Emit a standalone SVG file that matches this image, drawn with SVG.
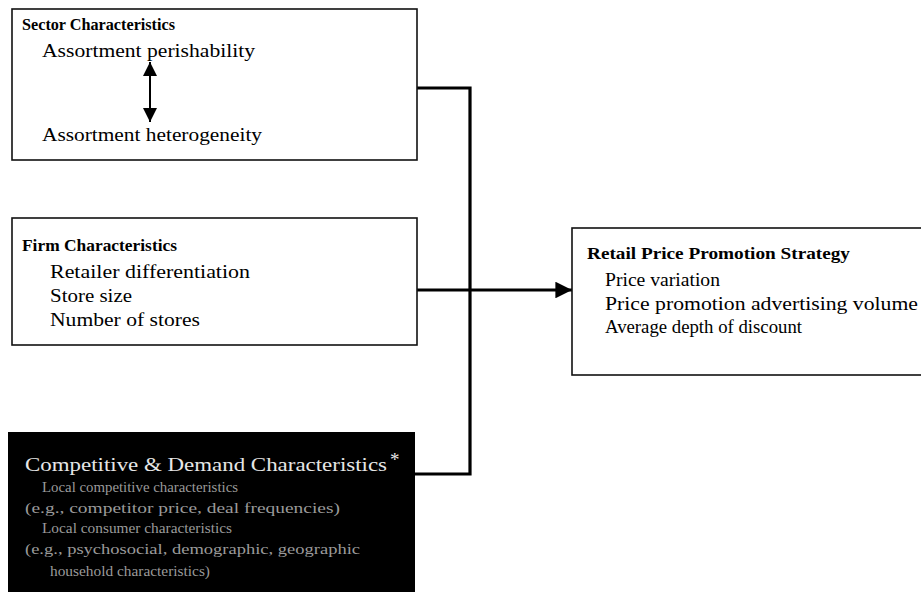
<svg xmlns="http://www.w3.org/2000/svg" width="921" height="597" viewBox="0 0 921 597">
  <style>
    .box { fill: #ffffff; stroke: #111111; stroke-width: 1.6; }
    .dark { fill: #000000; stroke: none; }
    .conn { fill: none; stroke: #000000; stroke-width: 3.2; }
    .thin { fill: none; stroke: #000000; stroke-width: 2; }
    .head { font-family: "Liberation Serif", "Times New Roman", serif; font-weight: bold; font-size: 17px; fill: #000000; }
    .item { font-family: "Liberation Serif", "Times New Roman", serif; font-size: 18px; fill: #000000; }
    .whead { font-family: "Liberation Serif", "Times New Roman", serif; font-size: 19px; fill: #e6e6e6; }
    .witem { font-family: "Liberation Serif", "Times New Roman", serif; font-size: 15px; fill: #9a9a9a; }
  </style>
  <defs>
    <marker id="arrow" viewBox="0 0 10 10" refX="10" refY="5" markerWidth="6" markerHeight="5.2" markerUnits="strokeWidth" orient="auto">
      <path d="M0,0 L10,5 L0,10 Z" fill="#000000"/>
    </marker>
    <marker id="arrowSmall" viewBox="0 0 10 10" refX="10" refY="5" markerWidth="8.5" markerHeight="7" markerUnits="strokeWidth" orient="auto-start-reverse">
      <path d="M0,0 L10,5 L0,10 Z" fill="#000000"/>
    </marker>
  </defs>

  <rect width="921" height="597" fill="#ffffff"/>

  <!-- connectors -->
  <g id="connectors">
    <polyline class="conn" points="417,88 470,88 470,474 415,474"/>
    <line class="conn" x1="417" y1="290" x2="572" y2="290" marker-end="url(#arrow)"/>
  </g>

  <!-- sector characteristics -->
  <g id="sector">
    <rect class="box" x="12" y="9" width="405" height="151"/>
    <text class="head" x="22" y="30" textLength="153" lengthAdjust="spacingAndGlyphs">Sector Characteristics</text>
    <text class="item" x="42" y="57" textLength="213" lengthAdjust="spacingAndGlyphs">Assortment perishability</text>
    <line class="thin" x1="150" y1="62" x2="150" y2="122" marker-start="url(#arrowSmall)" marker-end="url(#arrowSmall)"/>
    <text class="item" x="42" y="141" textLength="220" lengthAdjust="spacingAndGlyphs">Assortment heterogeneity</text>
  </g>

  <!-- firm characteristics -->
  <g id="firm">
    <rect class="box" x="12" y="218" width="405" height="127"/>
    <text class="head" x="22" y="251" textLength="155" lengthAdjust="spacingAndGlyphs">Firm Characteristics</text>
    <text class="item" x="50" y="278" textLength="200" lengthAdjust="spacingAndGlyphs">Retailer differentiation</text>
    <text class="item" x="50" y="302" textLength="82" lengthAdjust="spacingAndGlyphs">Store size</text>
    <text class="item" x="50" y="326" textLength="150" lengthAdjust="spacingAndGlyphs">Number of stores</text>
  </g>

  <!-- retail price promotion strategy -->
  <g id="strategy">
    <rect class="box" x="572" y="228" width="360" height="147"/>
    <text class="head" x="587" y="259" textLength="263" lengthAdjust="spacingAndGlyphs">Retail Price Promotion Strategy</text>
    <text class="item" x="605" y="286" textLength="115" lengthAdjust="spacingAndGlyphs">Price variation</text>
    <text class="item" x="605" y="310" textLength="313" lengthAdjust="spacingAndGlyphs">Price promotion advertising volume</text>
    <text class="item" x="605" y="333" textLength="197" lengthAdjust="spacingAndGlyphs">Average depth of discount</text>
  </g>

  <!-- competitive and demand characteristics -->
  <g id="competitive">
    <rect class="dark" x="8" y="432" width="407" height="160"/>
    <text class="whead" x="25" y="471" textLength="362" lengthAdjust="spacingAndGlyphs">Competitive &amp; Demand Characteristics</text>
    <text class="whead" x="390" y="466" font-size="14">*</text>
    <text class="witem" x="42" y="492" textLength="196" lengthAdjust="spacingAndGlyphs">Local competitive characteristics</text>
    <text class="witem" x="25" y="513" textLength="315" lengthAdjust="spacingAndGlyphs">(e.g., competitor price, deal frequencies)</text>
    <text class="witem" x="42" y="533" textLength="190" lengthAdjust="spacingAndGlyphs">Local consumer characteristics</text>
    <text class="witem" x="25" y="554" textLength="335" lengthAdjust="spacingAndGlyphs">(e.g., psychosocial, demographic, geographic</text>
    <text class="witem" x="50" y="576" textLength="160" lengthAdjust="spacingAndGlyphs">household characteristics)</text>
  </g>
</svg>
